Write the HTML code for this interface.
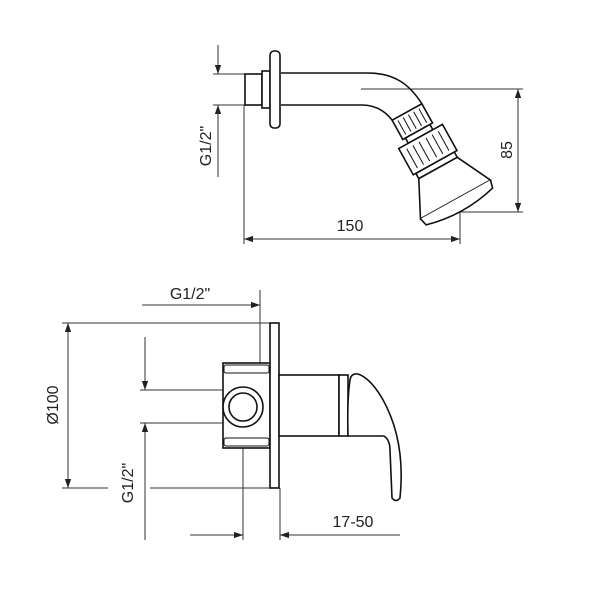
<!DOCTYPE html>
<html><head><meta charset="utf-8"><style>
html,body{margin:0;padding:0;background:#fff}
svg{display:block}
text{font-family:"Liberation Sans",sans-serif;font-size:16px;fill:#222}
</style></head><body>
<svg width="600" height="600" viewBox="0 0 600 600" xmlns="http://www.w3.org/2000/svg">
<defs>
<marker id="a" viewBox="0 0 10 10" refX="10" refY="5" markerWidth="9" markerHeight="9" orient="auto-start-reverse" markerUnits="userSpaceOnUse"><path d="M0,1.5 L10,5 L0,8.5 z" fill="#222"/></marker>
</defs>
<g stroke="#333" stroke-width="1" fill="none">
<line x1="218" y1="45" x2="218" y2="74" marker-end="url(#a)"/>
<line x1="218" y1="177" x2="218" y2="105" marker-end="url(#a)"/>
<line x1="213" y1="74" x2="245" y2="74"/>
<line x1="213" y1="105" x2="245" y2="105"/>
<line x1="244" y1="105" x2="244" y2="244"/>
<line x1="460" y1="212" x2="460" y2="244"/>
<line x1="244" y1="239" x2="460" y2="239" marker-start="url(#a)" marker-end="url(#a)"/>
<line x1="361" y1="89" x2="523" y2="89"/>
<line x1="460" y1="212" x2="523" y2="212"/>
<line x1="518" y1="89" x2="518" y2="212" marker-start="url(#a)" marker-end="url(#a)"/>
</g>
<g stroke="#111" stroke-width="1.6" fill="#fff">
<rect x="245" y="74" width="17" height="31"/>
<rect x="262" y="71" width="8" height="37"/>
<rect x="270" y="51" width="10" height="77" rx="4"/>
<path d="M281,73 L368,73 C395,73 410,85 422,104" fill="none"/>
<path d="M281,105 L362,105 C376,105 385,111 392,120" fill="none"/>
<g transform="translate(407,112) rotate(-29)">
<rect x="-17" y="0" width="34" height="22"/>
<line x1="-12" y1="3" x2="-12" y2="19" stroke-width="1"/><line x1="-6" y1="3" x2="-6" y2="19" stroke-width="1"/><line x1="0" y1="3" x2="0" y2="19" stroke-width="1"/><line x1="6" y1="3" x2="6" y2="19" stroke-width="1"/><line x1="12" y1="3" x2="12" y2="19" stroke-width="1"/>
<rect x="-14" y="22" width="28" height="6"/>
<rect x="-25" y="28" width="50" height="30"/>
<line x1="-18" y1="32" x2="-18" y2="54" stroke-width="1"/><line x1="-11" y1="32" x2="-11" y2="54" stroke-width="1"/><line x1="-4" y1="32" x2="-4" y2="54" stroke-width="1"/><line x1="4" y1="32" x2="4" y2="54" stroke-width="1"/><line x1="11" y1="32" x2="11" y2="54" stroke-width="1"/><line x1="18" y1="32" x2="18" y2="54" stroke-width="1"/>
<rect x="-22" y="58" width="44" height="6"/>
<path d="M-22,64 L-40,100 L40,100 L22,64 Z"/>
<path d="M-40,100 L-38,108 Q0,118 38,108 L40,100"/>
</g>
</g>
<text x="350" y="231" text-anchor="middle">150</text>
<text transform="translate(211,146) rotate(-90)" text-anchor="middle">G1/2"</text>
<text transform="translate(512,150) rotate(-90)" text-anchor="middle">85</text>

<g stroke="#333" stroke-width="1" fill="none">
<line x1="142" y1="305" x2="260" y2="305" marker-end="url(#a)"/>
<line x1="260" y1="290" x2="260" y2="363"/>
<line x1="62" y1="323" x2="272" y2="323"/>
<line x1="62" y1="488" x2="108" y2="488"/>
<line x1="150" y1="488" x2="272" y2="488"/>
<line x1="68" y1="323" x2="68" y2="488" marker-start="url(#a)" marker-end="url(#a)"/>
<line x1="145" y1="337" x2="145" y2="390" marker-end="url(#a)"/>
<line x1="145" y1="540" x2="145" y2="423" marker-end="url(#a)"/>
<line x1="140" y1="390" x2="224" y2="390"/>
<line x1="140" y1="423" x2="224" y2="423"/>
<line x1="243" y1="407" x2="243" y2="540"/>
<line x1="280" y1="488" x2="280" y2="540"/>
<line x1="190" y1="535" x2="243" y2="535" marker-end="url(#a)"/>
<line x1="400" y1="535" x2="280" y2="535" marker-end="url(#a)"/>
</g>
<g stroke="#111" stroke-width="1.6" fill="#fff">
<rect x="223" y="363" width="47" height="85"/>
<rect x="224" y="365" width="45" height="8" rx="2" stroke-width="1"/>
<rect x="224" y="438" width="45" height="8" rx="2" stroke-width="1"/>
<circle cx="243" cy="407" r="20"/>
<circle cx="243" cy="407" r="14"/>
<rect x="270" y="323" width="9" height="165"/>
<rect x="279" y="375" width="60" height="61"/>
<rect x="339" y="375" width="9" height="61"/>
<path d="M348,436 L384,436 Q390,440 390,450 L392,498 Q396,503 400,498 Q406,440 382,398 Q370,378 358,374 Q351,373 350,380 Q347,400 348,436 Z"/>
</g>
<text x="190" y="299" text-anchor="middle">G1/2"</text>
<text x="353" y="527" text-anchor="middle">17-50</text>
<text transform="translate(133,483) rotate(-90)" text-anchor="middle">G1/2"</text>
<text transform="translate(58,405) rotate(-90)" text-anchor="middle">Ø100</text>
</svg>
</body></html>
